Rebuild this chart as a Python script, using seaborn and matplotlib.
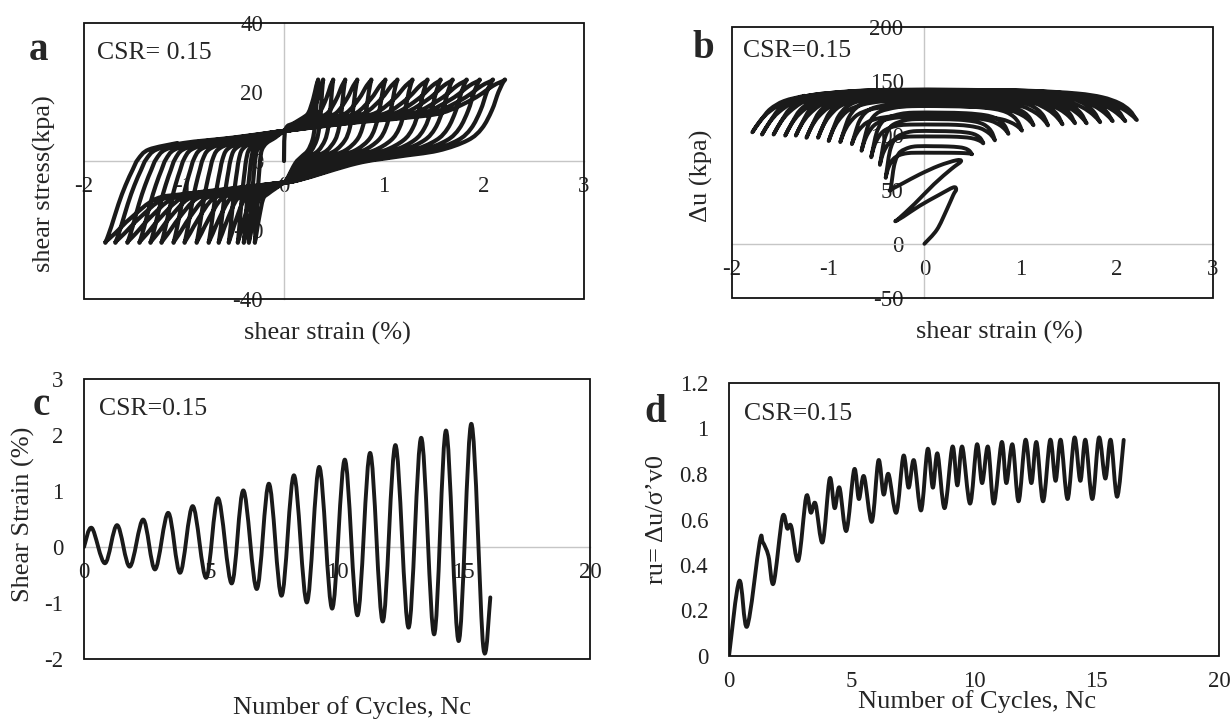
import numpy as np
import matplotlib
matplotlib.use("Agg")
import matplotlib.pyplot as plt
from matplotlib.patches import Rectangle, PathPatch
from matplotlib.path import Path
import seaborn as sns

# ---------------- data ----------------
# shear strain extremes of each loading cycle (%) and where they fall (cycles)
peak_cycle = [0.31, 1.31, 2.34, 3.33, 4.30, 5.30, 6.30, 7.31, 8.30, 9.30,
              10.31, 11.31, 12.31, 13.33, 14.31, 15.31]
strain_peak = [0.34, 0.39, 0.49, 0.61, 0.73, 0.87, 1.01, 1.13, 1.28, 1.43,
               1.56, 1.68, 1.82, 1.95, 2.08, 2.20]
trough_cycle = [0.83, 1.81, 2.81, 3.80, 4.83, 5.84, 6.83, 7.81, 8.81, 9.81,
                10.81, 11.81, 12.83, 13.84, 14.81, 15.78]
strain_trough = [-0.29, -0.35, -0.40, -0.46, -0.55, -0.65, -0.75, -0.87, -0.99, -1.10,
                 -1.22, -1.33, -1.44, -1.56, -1.68, -1.78]
end_cycle = 16.06
end_strain = -0.90

# panel a: outline of one loop (strain as a fraction of the loop extreme, stress in kPa)
reload_neg_frac = [1.00, 0.97, 0.93, 0.89, 0.85, 0.82, 0.76, 0.60, 0.30, 0.04]
reload_neg_tau = [-23.3, -19.0, -12.5, -7.0, -2.5, 0.5, 3.3, 5.2, 6.8, 8.5]
reload_pos_frac = [0.04, 0.30, 0.55, 0.72, 0.86, 0.95, 1.00]
reload_pos_tau = [9.0, 11.0, 12.5, 14.0, 18.0, 21.8, 23.3]
unload_pos_frac = [1.00, 0.975, 0.945, 0.90, 0.835, 0.70, 0.51, 0.33, 0.07]
unload_pos_tau = [23.3, 20.0, 14.7, 9.5, 6.0, 3.0, 1.2, -0.7, -5.5]
unload_neg_frac = [0.05, 0.30, 0.55, 0.72, 0.86, 0.95, 1.00]
unload_neg_tau = [-6.5, -8.0, -9.5, -11.0, -16.5, -21.0, -23.3]

# panel b: first two cycles traced directly
b_early_strain = [0.00, 0.13, 0.23, 0.30, 0.33, 0.30, 0.15, -0.05, -0.22, -0.30,
                  -0.27, -0.10, 0.10, 0.28, 0.38, 0.33, 0.15, -0.05, -0.22, -0.35]
b_early_du = [0, 13, 31, 45, 50, 52, 45, 35, 25, 21,
              23, 37, 55, 69, 76, 77, 72, 64, 56, 50]
# excess pore pressure (kPa) at the strain extremes and at the top of each half cycle
du_at_peak = [44, 74, 83, 93, 96, 102, 105, 110, 110, 111, 112, 112, 113, 114, 114, 115]
du_at_trough = [19, 50, 62, 74, 81, 87, 93, 95, 96, 99, 99, 101, 101, 102, 102, 104]
du_top_load = [45, 74, 90, 104, 115, 121, 127, 130, 135, 136, 138, 139, 141, 141, 142, 142]
du_top_unload = [49, 77, 84, 99, 110, 117, 118, 127, 132, 136, 136, 138, 139, 141, 141, 141]
du_end_top = 141
# shape of a half cycle near its ends (strain fraction, share of the rise to the top)
load_neg_frac = [1.0, 0.95, 0.9, 0.82, 0.7, 0.45, 0.2]
load_neg_rise = [0.0, 0.3, 0.55, 0.75, 0.88, 0.97, 1.0]
load_pos_frac = [0.2, 0.5, 0.72, 0.84, 0.92, 0.97, 1.0]
load_pos_rise = [1.0, 0.97, 0.88, 0.75, 0.55, 0.3, 0.0]
unld_pos_frac = [1.0, 0.96, 0.9, 0.8, 0.65, 0.45, 0.2]
unld_pos_rise = [0.0, 0.25, 0.5, 0.75, 0.9, 0.98, 1.0]
unld_neg_frac = [0.2, 0.45, 0.65, 0.8, 0.9, 0.96, 1.0]
unld_neg_rise = [1.0, 0.98, 0.9, 0.75, 0.5, 0.25, 0.0]

# panel d: pore pressure ratio
d_cycle = [0, 0.42, 0.74, 1.25, 1.38, 1.61, 1.82, 2.18, 2.38, 2.54, 2.83, 3.15, 3.34, 3.53,
           3.82, 4.11, 4.31, 4.51, 4.79, 5.11, 5.30, 5.51, 5.83, 6.10, 6.31, 6.51, 6.83,
           7.12, 7.33, 7.55, 7.84, 8.11, 8.32, 8.51, 8.80, 9.12, 9.32, 9.52, 9.84, 10.12,
           10.33, 10.57, 10.81, 11.13, 11.32, 11.57, 11.82, 12.10, 12.34, 12.55, 12.82,
           13.11, 13.33, 13.54, 13.82, 14.10, 14.34, 14.55, 14.83, 15.10, 15.36, 15.58,
           15.84, 16.11]
d_ru = [0, 0.33, 0.13, 0.50, 0.50, 0.44, 0.32, 0.61, 0.56, 0.57, 0.42, 0.70, 0.63, 0.67,
        0.50, 0.78, 0.65, 0.74, 0.55, 0.82, 0.69, 0.79, 0.59, 0.86, 0.71, 0.80, 0.63,
        0.88, 0.74, 0.86, 0.64, 0.91, 0.74, 0.89, 0.65, 0.92, 0.75, 0.92, 0.67, 0.93,
        0.76, 0.92, 0.67, 0.94, 0.76, 0.93, 0.68, 0.95, 0.76, 0.94, 0.68, 0.95, 0.77,
        0.95, 0.69, 0.96, 0.77, 0.95, 0.69, 0.96, 0.78, 0.95, 0.70, 0.95]

a_xticks = [-2, -1, 0, 1, 2, 3]
a_yticks = [-40, -20, 0, 20, 40]
b_xticks = [-2, -1, 0, 1, 2, 3]
b_yticks = [-50, 0, 50, 100, 150, 200]
c_xticks = [0, 5, 10, 15, 20]
c_yticks = [-2, -1, 0, 1, 2, 3]
d_xticks = [0, 5, 10, 15, 20]
d_yticks = [0, 0.2, 0.4, 0.6, 0.8, 1.0, 1.2]
d_ylabels = ["0", "0.2", "0.4", "0.6", "0.8", "1", "1.2"]

# ---------------- build the curves ----------------
# a: stress-strain loops
a_x, a_y = [0.0], [0.0]


def add_a(fracs, taus, ext):
    for f, t in zip(fracs, taus):
        a_x.append(f * ext)
        a_y.append(t)


add_a(reload_pos_frac, reload_pos_tau, strain_peak[0])
for k in range(len(strain_peak)):
    add_a(unload_pos_frac, unload_pos_tau, strain_peak[k])
    add_a(unload_neg_frac, unload_neg_tau, strain_trough[k])
    if k + 1 < len(strain_peak):
        add_a(reload_neg_frac, reload_neg_tau, strain_trough[k])
        add_a(reload_pos_frac, reload_pos_tau, strain_peak[k + 1])
    else:
        for f, t in zip(reload_neg_frac, reload_neg_tau):
            if f * strain_trough[k] <= end_strain:
                a_x.append(f * strain_trough[k])
                a_y.append(t)

# b: pore pressure vs strain
b_x, b_y = list(b_early_strain), list(b_early_du)


def add_b(fracs, rises, ext, base, top):
    for f, r in zip(fracs, rises):
        b_x.append(f * ext)
        b_y.append(base + r * (top - base))


for k in range(2, len(strain_peak)):
    add_b(load_neg_frac, load_neg_rise, strain_trough[k - 1], du_at_trough[k - 1], du_top_load[k])
    add_b(load_pos_frac, load_pos_rise, strain_peak[k], du_at_peak[k], du_top_load[k])
    add_b(unld_pos_frac, unld_pos_rise, strain_peak[k], du_at_peak[k], du_top_unload[k])
    add_b(unld_neg_frac, unld_neg_rise, strain_trough[k], du_at_trough[k], du_top_unload[k])
for f, r in zip(load_neg_frac, load_neg_rise):
    if f * strain_trough[-1] <= end_strain:
        b_x.append(f * strain_trough[-1])
        b_y.append(du_at_trough[-1] + r * (du_end_top - du_at_trough[-1]))

# c: strain history
c_x, c_y = [0.0], [0.0]
for tp, sp, tt, st in zip(peak_cycle, strain_peak, trough_cycle, strain_trough):
    c_x += [tp, tt]
    c_y += [sp, st]
c_x.append(end_cycle)
c_y.append(end_strain)


def smooth_path(x, y):
    # Excel-style smoothed line: cubic Bezier segments through the points
    p = np.column_stack([x, y]).astype(float)
    verts, codes = [p[0]], [Path.MOVETO]
    for i in range(len(p) - 1):
        p0 = p[i - 1] if i > 0 else p[i]
        p3 = p[i + 2] if i + 2 < len(p) else p[i + 1]
        verts += [p[i] + (p[i + 1] - p0) / 6, p[i + 1] - (p3 - p[i]) / 6, p[i + 1]]
        codes += [Path.CURVE4] * 3
    return Path(verts, codes)


# ---------------- drawing ----------------
sns.set_theme(style="white")
plt.rcParams["font.family"] = ["Liberation Serif", "DejaVu Serif"]
plt.rcParams["axes.unicode_minus"] = False

W, H = 1231, 720
fig = plt.figure(figsize=(W / 100, H / 100), dpi=100)


def box(l, t, r, b):
    return [l / W, 1 - b / H, (r - l) / W, (b - t) / H]


def fpos(x, y):
    return x / W, 1 - y / H


ink = "#1a1a1a"
grey = "#c6c6c6"
TICK = 16.5
LAB = 19
CSR = 18.5
LET = 28


def draw_curve(ax, x, y, lw):
    # seaborn lays the series on the axes, the visible stroke is the smoothed version
    sns.lineplot(x=x, y=y, sort=False, estimator=None, color=ink, linewidth=0, ax=ax)
    ax.add_patch(PathPatch(smooth_path(x, y), fill=False, edgecolor=ink, linewidth=lw,
                           capstyle="round", joinstyle="round", zorder=2))


def frame(ax, cross_x, cross_y):
    for s in ax.spines.values():
        s.set_visible(False)
    for side, on in (("left", cross_x), ("bottom", cross_y)):
        if on:
            sp = ax.spines[side]
            sp.set_position(("data", 0))
            sp.set_visible(True)
            sp.set_color(grey)
            sp.set_linewidth(1.0)
            sp.set_zorder(1)
    ax.add_patch(Rectangle((0, 0), 1, 1, transform=ax.transAxes, fill=False,
                           edgecolor="#111111", linewidth=1.3, zorder=5, clip_on=False))
    ax.tick_params(length=0, labelsize=TICK, colors="#222222")
    ax.tick_params(axis="y", pad=15)
    ax.tick_params(axis="x", pad=11)
    ax.set_xlabel("")
    ax.set_ylabel("")


ax_a = fig.add_axes(box(84, 23, 584, 299))
draw_curve(ax_a, a_x, a_y, 3.0)
ax_a.set_xlim(-2, 3)
ax_a.set_ylim(-40, 40)
ax_a.set_xticks(a_xticks)
ax_a.set_xticklabels([str(v) for v in a_xticks])
ax_a.set_yticks(a_yticks)
ax_a.set_yticklabels([str(v) for v in a_yticks])
frame(ax_a, True, True)

ax_b = fig.add_axes(box(732, 27, 1213, 298))
draw_curve(ax_b, b_x, b_y, 2.8)
ax_b.set_xlim(-2, 3)
ax_b.set_ylim(-50, 200)
ax_b.set_xticks(b_xticks)
ax_b.set_xticklabels([str(v) for v in b_xticks])
ax_b.set_yticks(b_yticks)
ax_b.set_yticklabels([str(v) for v in b_yticks])
frame(ax_b, True, True)

ax_c = fig.add_axes(box(84, 379, 590, 659))
draw_curve(ax_c, c_x, c_y, 2.8)
ax_c.set_xlim(0, 20)
ax_c.set_ylim(-2, 3)
ax_c.set_xticks(c_xticks)
ax_c.set_xticklabels([str(v) for v in c_xticks])
ax_c.set_yticks(c_yticks)
ax_c.set_yticklabels([str(v) for v in c_yticks])
frame(ax_c, False, True)

ax_d = fig.add_axes(box(729, 383, 1219, 656))
draw_curve(ax_d, d_cycle, d_ru, 2.8)
ax_d.set_xlim(0, 20)
ax_d.set_ylim(0, 1.2)
ax_d.set_xticks(d_xticks)
ax_d.set_xticklabels([str(v) for v in d_xticks])
ax_d.set_yticks(d_yticks)
ax_d.set_yticklabels(d_ylabels)
frame(ax_d, False, False)

# panel letters, CSR notes and axis titles
for letter, (x, y) in zip("abcd", [(39, 60), (703, 58), (41, 415), (655, 422)]):
    fig.text(*fpos(x, y), letter, fontsize=LET, fontweight="bold", ha="center", va="baseline")
for note, (x, y) in zip(["CSR= 0.15", "CSR=0.15", "CSR=0.15", "CSR=0.15"],
                        [(97, 59), (743, 57), (99, 415), (744, 420)]):
    fig.text(*fpos(x, y), note, fontsize=CSR, ha="left", va="baseline")

fig.text(*fpos(327, 333), "shear strain (%)", fontsize=LAB, ha="center", va="center")
fig.text(*fpos(999, 332), "shear strain (%)", fontsize=LAB, ha="center", va="center")
fig.text(*fpos(352, 708), "Number of Cycles, Nc", fontsize=LAB, ha="center", va="center")
fig.text(*fpos(977, 702), "Number of Cycles, Nc", fontsize=LAB, ha="center", va="center")
fig.text(*fpos(44, 184), "shear stress(kpa)", fontsize=LAB, rotation=90, ha="center", va="center")
fig.text(*fpos(701, 176), "\u0394u (kpa)", fontsize=LAB, rotation=90, ha="center", va="center")
fig.text(*fpos(23, 514), "Shear Strain (%)", fontsize=LAB, rotation=90, ha="center", va="center")
fig.text(*fpos(657, 520), "ru= \u0394u/\u03c3\u2019v0", fontsize=LAB, rotation=90, ha="center", va="center")

fig.savefig("out.png", dpi=100, facecolor="white")
